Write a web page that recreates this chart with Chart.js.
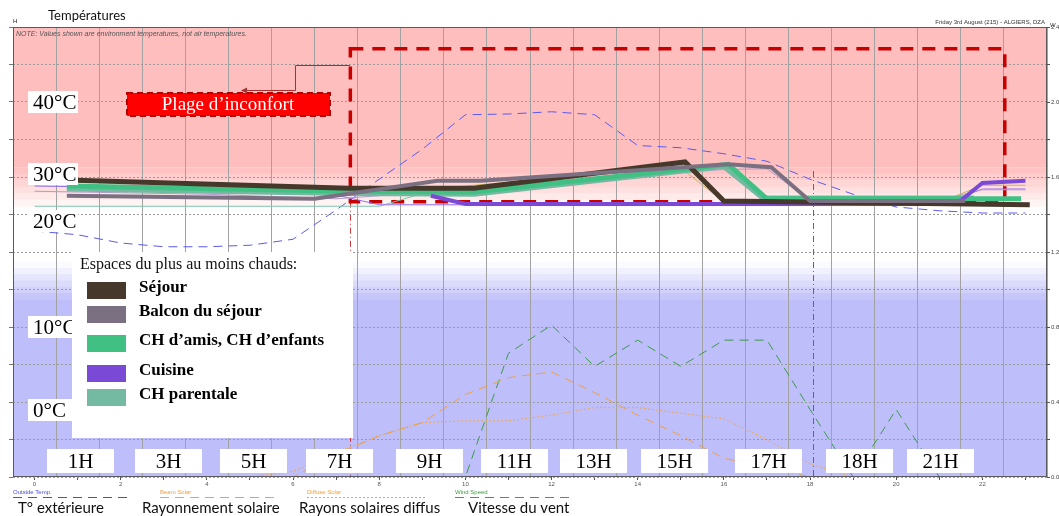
<!DOCTYPE html>
<html>
<head>
<meta charset="utf-8">
<script src="https://cdn.jsdelivr.net/npm/chart.js@4.4.0/dist/chart.umd.min.js"></script>
<style>
  html, body { margin: 0; padding: 0; background: #fff; overflow: hidden; }
  #wrap { width: 1059px; height: 516px; position: relative; }
</style>
</head>
<body>
<div id="wrap"><canvas id="chart" width="1059" height="516"></canvas></div>
<script>
// hourly values, hour 0..23
const HOURS = [0,1,2,3,4,5,6,7,8,9,10,11,12,13,14,15,16,17,18,19,20,21,22,23];
const outsideTemp = [22.8,22.3,21.2,20.7,20.7,20.9,21.7,25.6,29.7,33.7,38.3,38.4,38.7,38.3,34.2,33.9,33.1,32.1,29.7,27.7,26.0,25.5,25.2,25.2];
const beamSolar = [0,0,0,0,0,0,0,0.12,0.22,0.29,0.44,0.53,0.56,0.45,0.33,0.22,0.10,0.05,0,0,0,0,0,0];
const diffuseSolar = [0,0,0,0,0,0,0.03,0.13,0.22,0.29,0.30,0.30,0.33,0.37,0.37,0.34,0.31,0.20,0.07,0,0,0,0,0];
const windSpeed = [0,0,0,0,0,0,0,0,0,0,0,0.66,0.81,0.59,0.73,0.59,0.73,0.73,0.36,0,0.36,0,0,0];

// thin zone curves (original simulation output)
const zoneOlive = [29.2,29.0,28.8,28.6,28.4,28.2,28.0,27.8,27.9,28.3,28.8,29.3,29.8,30.3,30.8,31.2,26.7,26.6,26.6,26.6,26.6,26.6,28.9,28.9];
const zoneLavender = [28.1,28.0,27.9,27.8,27.7,27.5,27.3,27.1,27.5,28.2,28.6,29.0,29.4,29.8,30.2,30.6,31.0,31.1,26.9,26.9,26.9,26.9,28.3,28.3];
const zonePurple = [28.8,28.7,28.6,28.4,28.3,28.1,27.9,27.6,26.3,26.3,26.3,26.3,26.3,26.3,26.3,26.3,26.3,26.3,26.3,26.3,26.3,26.3,28.4,28.4];
const zoneTeal = [26.1,26.1,26.1,26.1,26.1,26.1,26.1,26.1,26.1,27.8,28.0,null,null,null,null,null,null,null,null,null,null,null,null,null];

// thick highlighted zones (hour, temperature vertices)
const sejourHours = [0.75,7.3,10.2,15.1,16.0,23.1];
const sejourTemps = [29.6,28.5,28.5,32.0,26.8,26.3];
const balconHours = [0.75,6.5,9.35,10.35,16.1,17.1,18.0,21.6];
const balconTemps = [27.5,27.1,29.5,29.5,31.7,31.3,26.8,26.8];
const amisHours = [0.75,7.3,10.2,16.1,17.0,22.9];
const amisTemps = [28.8,28.1,28.0,31.7,27.1,27.1];
const cuisineHours = [9.2,10.0,21.4,22.0,23.0];
const cuisineTemps = [27.5,26.4,26.4,29.2,29.5];
const parentaleHours = [0.75,7.3,10.2,16.0,16.9,21.8];
const parentaleTemps = [28.4,27.8,27.7,31.4,27.2,27.2];

const zoneNames = ["Séjour","Balcon du séjour","CH d’amis, CH d’enfants","Cuisine","CH parentale"];
const zoneColors = ["#46382a","#7b7081","#41c084","#7a4ad6","#74b9a2"];

const hourLabels = ["1H","3H","5H","7H","9H","11H","13H","15H","17H","18H","21H"];
const tempLabels = ["40°C","30°C","20°C","10°C","0°C"];

// discomfort zone: hours and temperatures of the dashed frame
const inconfortHours = [7.33, 22.52];
const inconfortTemps = [26.7, 47.1];
const markerHours = [7.33, 18.07];
const markerTops = [26.7, 30.8];

// comfort band edges (°C)
const hotSolid = 31.3, hotEdge = 26.1, coldEdge = 18.7, coldSolid = 13.7;

const PINK = [255,190,190], BLUE = [190,190,250];

function pts(xs, ys) { return xs.map((x, i) => ({ x: x, y: ys[i] })); }
function mix(c, t) {
  return "rgb(" + c.map(v => Math.round(v + (255 - v) * t)).join(",") + ")";
}

const backdrop = {
  id: "backdrop",
  beforeDraw(chart) {
    const { ctx, chartArea: a, scales } = chart;
    const y = scales.y;
    ctx.save();
    ctx.fillStyle = "#fff";
    ctx.fillRect(0, 0, chart.width, chart.height);
    ctx.fillStyle = mix(PINK, 0);
    ctx.fillRect(a.left, a.top, a.width, y.getPixelForValue(hotSolid) - a.top);
    const n = 6;
    for (let i = 0; i < n; i++) {
      const t0 = hotSolid - (hotSolid - hotEdge) * i / n;
      const t1 = hotSolid - (hotSolid - hotEdge) * (i + 1) / n;
      ctx.fillStyle = mix(PINK, (i + 0.5) / n * 0.9);
      const p0 = y.getPixelForValue(t0), p1 = y.getPixelForValue(t1);
      ctx.fillRect(a.left, p0, a.width, p1 - p0 + 0.5);
    }
    for (let i = 0; i < n; i++) {
      const t0 = coldEdge - (coldEdge - coldSolid) * i / n;
      const t1 = coldEdge - (coldEdge - coldSolid) * (i + 1) / n;
      ctx.fillStyle = mix(BLUE, 1 - (i + 0.5) / n * 0.95);
      const p0 = y.getPixelForValue(t0), p1 = y.getPixelForValue(t1);
      ctx.fillRect(a.left, p0, a.width, p1 - p0 + 0.5);
    }
    const pc = y.getPixelForValue(coldSolid);
    ctx.fillStyle = mix(BLUE, 0);
    ctx.fillRect(a.left, pc, a.width, a.bottom - pc);
    ctx.restore();
  },
  beforeDatasetsDraw(chart) {
    const { ctx, chartArea: a, scales } = chart;
    const x = scales.x, y = scales.y;
    ctx.save();
    // thin red time markers
    ctx.strokeStyle = "#d03a3a";
    ctx.lineWidth = 1;
    ctx.setLineDash([6, 3, 1, 3]);
    markerHours.forEach((h, i) => {
      const px = Math.round(x.getPixelForValue(h)) + 0.5;
      ctx.beginPath();
      ctx.moveTo(px, y.getPixelForValue(markerTops[i]));
      ctx.lineTo(px, a.bottom);
      ctx.stroke();
    });
    // dashed discomfort frame
    const xl = x.getPixelForValue(inconfortHours[0]), xr = x.getPixelForValue(inconfortHours[1]);
    const yb = y.getPixelForValue(inconfortTemps[0]), yt = y.getPixelForValue(inconfortTemps[1]);
    ctx.strokeStyle = "#c80000";
    ctx.lineWidth = 3.5;
    ctx.setLineDash([13, 9]);
    ctx.strokeRect(xl, yt, xr - xl, yb - yt);
    ctx.restore();
  },
  afterDraw(chart) {
    const { ctx, chartArea: a } = chart;
    ctx.save();
    // plot frame
    ctx.strokeStyle = "#5a5a5a";
    ctx.lineWidth = 1;
    ctx.strokeRect(a.left + 0.5, a.top + 0.5, a.width - 1, a.height - 1);

    // header texts
    ctx.fillStyle = "#111";
    ctx.font = "13px Lato";
    ctx.textBaseline = "alphabetic";
    ctx.fillText("Températures", 48, 20);
    ctx.font = "6px 'Liberation Sans'";
    ctx.fillText("H", 13, 23);
    ctx.fillStyle = "#333";
    ctx.textAlign = "right";
    ctx.fillText("Friday 3rd August (215) - ALGIERS, DZA", 1045, 24);
    ctx.textAlign = "left";
    ctx.fillText("W", 1050, 27);
    ctx.fillStyle = "#555";
    ctx.font = "italic 7px 'Liberation Sans'";
    ctx.fillText("NOTE: Values shown are environment temperatures, not air temperatures.", 16, 36);

    // temperature labels
    const tempY = [102, 174, 221, 327, 410];
    ctx.font = "21px 'Liberation Serif'";
    ctx.textBaseline = "middle";
    tempLabels.forEach((t, i) => {
      ctx.fillStyle = "#fff";
      ctx.fillRect(28, tempY[i] - 11, 50, 22);
      ctx.fillStyle = "#000";
      ctx.fillText(t, 33, tempY[i] + 1);
    });

    // discomfort label with connector
    ctx.strokeStyle = "#a83030";
    ctx.lineWidth = 1;
    ctx.setLineDash([]);
    ctx.beginPath();
    ctx.moveTo(350, 65.5); ctx.lineTo(295.5, 65.5); ctx.lineTo(295.5, 90.5); ctx.lineTo(245, 90.5);
    ctx.stroke();
    ctx.fillStyle = "#a83030";
    ctx.beginPath(); ctx.moveTo(241, 90.5); ctx.lineTo(247, 87.5); ctx.lineTo(247, 93.5); ctx.fill();
    ctx.fillStyle = "#ff0000";
    ctx.fillRect(127, 93, 203, 23);
    ctx.strokeStyle = "#b00000";
    ctx.lineWidth = 2;
    ctx.setLineDash([6, 4]);
    ctx.strokeRect(127, 93, 203, 23);
    ctx.setLineDash([]);
    ctx.fillStyle = "#fff";
    ctx.font = "19px 'Liberation Serif'";
    ctx.textAlign = "center";
    ctx.fillText("Plage d’inconfort", 228, 105);

    // hour boxes
    const boxX = [47,135,220,306,396,481,560,641,735,826,907];
    ctx.font = "21px 'Liberation Serif'";
    hourLabels.forEach((t, i) => {
      ctx.fillStyle = "#fff";
      ctx.fillRect(boxX[i], 449, 67, 24);
      ctx.fillStyle = "#000";
      ctx.fillText(t, boxX[i] + 33.5, 462);
    });

    // zones legend
    ctx.textAlign = "left";
    ctx.fillStyle = "#fff";
    ctx.fillRect(72, 252, 281, 186);
    ctx.fillStyle = "#111";
    ctx.font = "16px 'Liberation Serif'";
    ctx.fillText("Espaces du plus au moins chauds:", 80, 265);
    const legY = [290, 314, 343, 373, 397];
    ctx.font = "bold 17px 'Liberation Serif'";
    zoneNames.forEach((name, i) => {
      ctx.fillStyle = zoneColors[i];
      ctx.fillRect(87, legY[i] - 8, 39, 17);
      ctx.fillStyle = "#000";
      ctx.fillText(name, 139, legY[i] - 2);
    });

    // series legend
    const keys = [
      ["Outside Temp.", "#4a4ae0", [9, 6], "T° extérieure", 13, 18],
      ["Beam Solar", "#f0a040", [9, 6], "Rayonnement solaire", 160, 142],
      ["Diffuse Solar", "#f0a040", [2, 2], "Rayons solaires diffus", 307, 299],
      ["Wind Speed", "#40a040", [9, 6], "Vitesse du vent", 455, 468]
    ];
    keys.forEach(k => {
      ctx.font = "6px 'Liberation Sans'";
      ctx.fillStyle = k[1];
      ctx.textBaseline = "alphabetic";
      ctx.fillText(k[0], k[4], 494);
      ctx.strokeStyle = k[1];
      ctx.lineWidth = 1;
      ctx.setLineDash(k[2]);
      ctx.beginPath(); ctx.moveTo(k[4], 497.5); ctx.lineTo(k[4] + 119, 497.5); ctx.stroke();
      ctx.setLineDash([]);
      ctx.fillStyle = "#111";
      ctx.font = "15px Lato";
      ctx.fillText(k[3], k[5], 513);
    });
    ctx.restore();
  }
};

function thick(label, xs, ys, color, w) {
  return { label: label, data: pts(xs, ys), borderColor: color, borderWidth: w, pointRadius: 0, tension: 0, yAxisID: "y" };
}
function thin(label, vals, color) {
  return { label: label, data: pts(HOURS, vals), borderColor: color, borderWidth: 1, pointRadius: 0, tension: 0, yAxisID: "y" };
}

new Chart(document.getElementById("chart"), {
  type: "line",
  data: {
    datasets: [
      thick(zoneNames[1], balconHours, balconTemps, zoneColors[1], 4),
      thick(zoneNames[0], sejourHours, sejourTemps, zoneColors[0], 5),
      thick(zoneNames[3], cuisineHours, cuisineTemps, zoneColors[3], 4),
      thick(zoneNames[2], amisHours, amisTemps, zoneColors[2], 5),
      thick(zoneNames[4], parentaleHours, parentaleTemps, zoneColors[4], 5),
      thin("z1", zoneOlive, "#c8b45a"),
      thin("z2", zoneLavender, "#b49ccd"),
      thin("z3", zonePurple, "#8f70ea"),
      thin("z4", zoneTeal, "#7cc8ac"),
      { label: "Outside Temp.", data: pts(HOURS, outsideTemp), borderColor: "#5a5af0", borderWidth: 1, borderDash: [9, 6], pointRadius: 0, tension: 0, yAxisID: "y" },
      { label: "Beam Solar", data: pts(HOURS, beamSolar), borderColor: "#f0a040", borderWidth: 1, borderDash: [9, 6], pointRadius: 0, tension: 0, yAxisID: "y2" },
      { label: "Diffuse Solar", data: pts(HOURS, diffuseSolar), borderColor: "#f0a850", borderWidth: 1, borderDash: [2, 2], pointRadius: 0, tension: 0, yAxisID: "y2" },
      { label: "Wind Speed", data: pts(HOURS, windSpeed), borderColor: "#3c9a4a", borderWidth: 1, borderDash: [9, 6], pointRadius: 0, tension: 0, yAxisID: "y2" }
    ]
  },
  options: {
    responsive: false,
    animation: false,
    layout: { padding: { top: 27, left: 0, right: 0, bottom: 0 } },
    plugins: { legend: { display: false }, tooltip: { enabled: false } },
    scales: {
      x: {
        type: "linear",
        min: -0.5,
        max: 23.5,
        afterBuildTicks: (s) => {
          const t = [];
          for (let v = -0.5; v <= 23.5; v += 0.5) t.push({ value: v });
          s.ticks = t;
        },
        afterFit: (s) => { s.height = 39; },
        grid: {
          color: (c) => Number.isInteger(c.tick.value) ? "rgba(0,0,0,0)" : "#a2a2a2",
          tickColor: (c) => Number.isInteger(c.tick.value) ? "#555" : "rgba(0,0,0,0)",
          tickLength: 3,
          lineWidth: 1
        },
        border: { display: false },
        ticks: {
          autoSkip: false,
          maxRotation: 0,
          padding: 1,
          font: { size: 6, family: "'Liberation Sans'" },
          color: "#555",
          callback: (v) => (Number.isInteger(v) && v % 2 === 0) ? String(v) : ""
        }
      },
      y: {
        position: "left",
        min: -10,
        max: 50,
        afterFit: (s) => { s.width = 13; },
        ticks: { stepSize: 5, display: false },
        grid: { color: "#9a9a9a", lineWidth: 1, tickLength: 4, tickColor: "#777" },
        border: { display: false, dash: [2, 2] }
      },
      y2: {
        position: "right",
        min: 0,
        max: 2.4,
        afterFit: (s) => { s.width = 12; },
        ticks: {
          stepSize: 0.2,
          padding: 1,
          font: { size: 6, family: "'Liberation Sans'" },
          color: "#444",
          callback: (v) => (Math.round(v * 10) % 4 === 0) ? v.toFixed(1) : ""
        },
        grid: { drawOnChartArea: false, tickLength: 3, tickColor: "#555" },
        border: { display: false }
      }
    }
  },
  plugins: [backdrop]
});
</script>
</body>
</html>
